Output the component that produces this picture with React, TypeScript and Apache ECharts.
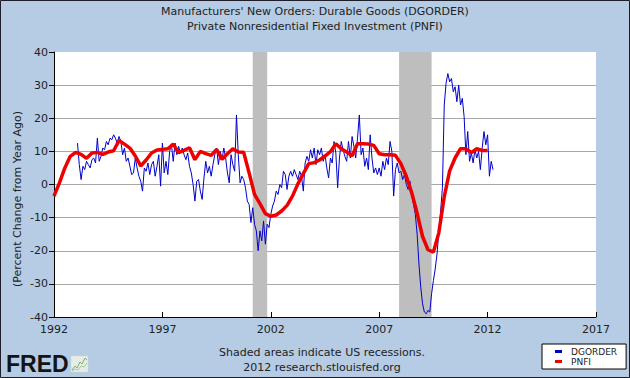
import React, { useEffect, useRef } from "react";
import * as echarts from "echarts";

const titleLines = [
  "Manufacturers' New Orders: Durable Goods (DGORDER)",
  "Private Nonresidential Fixed Investment (PNFI)",
];
const yAxisTitle = "(Percent Change from Year Ago)";
const footnoteLines = ["Shaded areas indicate US recessions.", "2012 research.stlouisfed.org"];
const seriesNames = ["DGORDER", "PNFI"];
const xMin = 1992;
const xMax = 2017;
const xStep = 5;
const yMin = -40;
const yMax = 40;
const yStep = 10;

// Recessions (decimal years): Mar 2001 - Nov 2001, Dec 2007 - Jun 2009
const recessionStarts = [2001 + 2 / 12, 2007 + 11 / 12];
const recessionEnds = [2001 + 10 / 12, 2009 + 5 / 12];

// DGORDER: monthly % change from year ago, Feb 1993 .. Apr 2012
const dgorderStart = 1993 + 1 / 12;
const dgorder = [
  /*1993*/ 12.5, 6, 1.5, 5.5, 4.5, 7, 6, 5, 7.5, 8, 6.5,
  /*1994*/ 14, 7, 8.5, 11, 10.5, 13, 12, 14, 13.5, 15, 14, 12.5,
  /*1995*/ 14.5, 13, 9, 11, 7, 8, 5.5, 3, 3.5, 8, 5, 2.5,
  /*1996*/ 1, -2, 5, 4, 6.5, 3, 6, 7, 2.5, 5.5, 9, -0.5,
  /*1997*/ 12.5, 3.5, 7, 3, 10, 12, 7, 12.5, 9, 11.5, 9.5, 11,
  /*1998*/ 9, 7.5, 9.5, 5.5, 3.5, 0, -5, 1, 1.5, -2, -4.5, 2,
  /*1999*/ 7, 3.5, 5.5, 2.5, 6, 9, 11, 6, 10, 7.5, 11, 8,
  /*2000*/ 3.5, 0.5, 9, 6, 4, 21, 9, 0.5, 2.5, 1.5, -1, -5,
  /*2001*/ -6, -11.5, -7, -12, -14, -20, -14, -17, -11, -18, -12, -13,
  /*2002*/ -9, -6.5, -5, -2, -3, 0, -1, 4, 3, -1.5, 2.5, 4,
  /*2003*/ 2.5, 4.5, 3, 1.5, 4, 2.5, -2, 6.5, 8.5, 7, 10.5, 8,
  /*2004*/ 11, 6, 10.5, 9, 11, 7, 9, 5, 2, 8, 6.5, 13,
  /*2005*/ 9.5, -1, 8, 13, 10.5, 8.5, 7, 13, 8, 14.5, 11.5, 8,
  /*2006*/ 14, 21, 9, 11, 5.5, 8, 4.5, 15, 8, 3.5, 5, 3,
  /*2007*/ 5, 2.5, 7, 4.5, 8, 6, 13, 10, -3.5, 4.5, 6.5, 3.5,
  /*2008*/ 4, 1.5, 3, 0, -1.5, 1, -3, -6, -9, -15, -24, -31,
  /*2009*/ -36, -38.5, -39, -38, -38.5, -33, -29, -25.5, -21, -14.5, -8, -1,
  /*2010*/ 24, 30.5, 33.5, 31, 32, 28, 29.5, 25, 30, 24, 26, 20.5,
  /*2011*/ 9, 16, 7, 9.5, 6.5, 10.5, 8, 10, 4.5, 11, 16, 12,
  /*2012*/ 15, 2.5, 7, 4.5,
];

// PNFI: quarterly % change from year ago, 1992Q1 .. 2012Q1
const pnfiStart = 1992;
const pnfi = [
  /*1992*/ -3.5, 0.5, 5.0, 8.5,
  /*1993*/ 9.7, 9.1, 7.9, 9.5,
  /*1994*/ 9.7, 9.1, 9.8, 10.2,
  /*1995*/ 13.3, 12.2, 11.0, 8.6,
  /*1996*/ 5.6, 7.4, 9.5, 10.4,
  /*1997*/ 10.6, 10.8, 12.2, 9.6,
  /*1998*/ 10.3, 11.1, 7.5, 10.0,
  /*1999*/ 9.3, 8.8, 10.6, 7.6,
  /*2000*/ 9.3, 10.8, 9.8, 9.7,
  /*2001*/ 3.5, -3.0, -5.8, -8.8,
  /*2002*/ -9.6, -9.2, -8.0, -6.3,
  /*2003*/ -3.5, 0.2, 3.3, 6.3,
  /*2004*/ 6.6, 7.4, 8.6, 9.9,
  /*2005*/ 12.3, 10.8, 9.8, 8.7,
  /*2006*/ 12.3, 12.3, 12.2, 11.8,
  /*2007*/ 9.3, 9.0, 9.0, 8.8,
  /*2008*/ 6.3, 2.5, -2.5, -8.7,
  /*2009*/ -15.7, -19.7, -20.4, -14.6,
  /*2010*/ -3.7, 4.1, 8.0, 10.8,
  /*2011*/ 10.8, 9.6, 10.8, 10.3,
  /*2012*/ 10.3,
];

const FONT = '"DejaVu Sans", Verdana, sans-serif';

export default function App() {
  const ref = useRef<HTMLDivElement>(null);

  useEffect(() => {
    if (!ref.current) return;
    const chart = echarts.init(ref.current, undefined, { renderer: "svg" });

    const dgData = dgorder.map((v, i) => [dgorderStart + i / 12, v]);
    const pnData = pnfi.map((v, i) => [pnfiStart + i / 4, v]);
    const areas = recessionStarts.map((s, i) => [{ xAxis: s }, { xAxis: recessionEnds[i] }]);

    const option: any = {
      animation: false,
      backgroundColor: "#B5CCE4",
      textStyle: { fontFamily: FONT },
      title: {
        text: titleLines.join("\n"),
        left: "center",
        top: 4,
        padding: 0,
        textStyle: {
          fontSize: 11,
          fontWeight: "normal",
          color: "#222",
          lineHeight: 15,
          fontFamily: FONT,
        },
      },
      grid: {
        left: 54,
        right: 34,
        top: 52,
        bottom: 61,
        show: true,
        backgroundColor: "#ffffff",
        borderWidth: 0,
      },
      legend: {
        data: seriesNames,
        orient: "vertical",
        left: 542,
        top: 344,
        padding: [3, 9, 3, 13],
        itemGap: 1,
        itemWidth: 7,
        itemHeight: 3,
        icon: "rect",
        backgroundColor: "#ffffff",
        borderColor: "#000000",
        borderWidth: 1,
        borderRadius: 0,
        textStyle: { fontSize: 9, color: "#222", fontFamily: FONT, padding: [0, 0, 0, 4] },
      },
      xAxis: {
        type: "value",
        min: xMin,
        max: xMax,
        interval: xStep,
        splitLine: { show: false },
        axisLine: { onZero: false, lineStyle: { color: "#000", width: 1 } },
        axisTick: { inside: true, length: 5, lineStyle: { color: "#000" } },
        axisLabel: {
          margin: 7,
          fontSize: 11,
          color: "#222",
          fontFamily: FONT,
          showMinLabel: true,
          showMaxLabel: true,
          formatter: (v: number) => String(v),
        },
      },
      yAxis: {
        type: "value",
        min: yMin,
        max: yMax,
        interval: yStep,
        axisLine: { show: true, lineStyle: { color: "#000", width: 1 } },
        axisTick: { show: true, length: 5, lineStyle: { color: "#000" } },
        axisLabel: { margin: 6, fontSize: 11, color: "#222", fontFamily: FONT },
        splitLine: {
          show: true,
          showMinLine: false,
          showMaxLine: false,
          lineStyle: { color: "#A8A8A8", width: 1 },
        },
      },
      series: [
        {
          name: seriesNames[0],
          type: "line",
          data: dgData,
          symbol: "none",
          showSymbol: false,
          color: "#0000CC",
          lineStyle: { color: "#0000CC", width: 1 },
          itemStyle: { color: "#0000CC" },
          z: 2,
          markArea: {
            silent: true,
            itemStyle: { color: "#BEBEBE" },
            data: areas,
          },
        },
        {
          name: seriesNames[1],
          type: "line",
          data: pnData,
          symbol: "none",
          showSymbol: false,
          color: "#EE0000",
          lineStyle: { color: "#EE0000", width: 3.5 },
          itemStyle: { color: "#EE0000" },
          z: 3,
        },
      ],
      graphic: [
        {
          type: "text",
          x: 17,
          y: 199,
          rotation: Math.PI / 2,
          style: {
            text: yAxisTitle,
            font: `11px ${FONT}`,
            fill: "#222",
            align: "center",
            verticalAlign: "middle",
            textAlign: "center",
            textVerticalAlign: "middle",
          },
        },
        {
          type: "text",
          x: 322,
          y: 352,
          style: {
            text: footnoteLines[0],
            font: `11px ${FONT}`,
            fill: "#222",
            align: "center",
            verticalAlign: "middle",
            textAlign: "center",
            textVerticalAlign: "middle",
          },
        },
        {
          type: "text",
          x: 322,
          y: 367,
          style: {
            text: footnoteLines[1],
            font: `11px ${FONT}`,
            fill: "#222",
            align: "center",
            verticalAlign: "middle",
            textAlign: "center",
            textVerticalAlign: "middle",
          },
        },
        {
          type: "text",
          x: 6,
          y: 364,
          style: {
            text: "FRED",
            font: 'bold 23px "Liberation Sans", Arial, sans-serif',
            fill: "#141414",
            align: "left",
            verticalAlign: "middle",
            textAlign: "left",
            textVerticalAlign: "middle",
          },
        },
        {
          type: "rect",
          shape: { x: 71, y: 356, width: 17, height: 16 },
          style: { fill: "#E6ECE6", stroke: "#D0D8D0", lineWidth: 0.5 },
        },
        {
          type: "polyline",
          shape: { points: [[72, 370], [75, 366], [77, 368], [80, 362], [82, 364], [85, 358], [87, 360]] },
          style: { stroke: "#7DB070", lineWidth: 1, fill: "none" },
        },
        {
          type: "polyline",
          shape: { points: [[72, 371], [75, 369], [78, 370], [81, 366], [84, 367], [87, 363]] },
          style: { stroke: "#A8C8A0", lineWidth: 1, fill: "none" },
        },
        {
          type: "rect",
          shape: { x: 0.5, y: 0.5, width: 629, height: 377 },
          style: { fill: "none", stroke: "#1E1E2A", lineWidth: 1 },
          z: 100,
        },
      ],
    };

    chart.setOption(option);
    return () => {
      chart.dispose();
    };
  }, []);

  return (
    <div
      ref={ref}
      style={{ position: "fixed", left: 0, top: 0, width: 630, height: 378 }}
    />
  );
}
